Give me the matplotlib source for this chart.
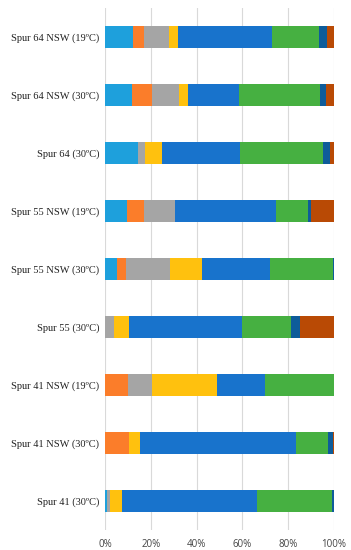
import matplotlib
matplotlib.use("Agg")
import matplotlib.pyplot as plt
import numpy as np
from matplotlib.ticker import PercentFormatter

# rows listed top to bottom
samples = [
    "Spur 64 NSW (19ºC)",
    "Spur 64 NSW (30ºC)",
    "Spur 64 (30ºC)",
    "Spur 55 NSW (19ºC)",
    "Spur 55 NSW (30ºC)",
    "Spur 55 (30ºC)",
    "Spur 41 NSW (19ºC)",
    "Spur 41 NSW (30ºC)",
    "Spur 41 (30ºC)",
]

# share of each component per sample (%)
light_blue = [12.4, 11.8, 14.3, 9.5, 5.4, 0.0, 0.0, 0.0, 1.0]
orange = [4.6, 8.7, 0.0, 7.5, 3.6, 0.0, 9.9, 10.3, 0.0]
gray = [10.8, 12.0, 3.3, 13.6, 19.2, 3.8, 10.6, 0.0, 1.3]
yellow = [3.9, 3.6, 7.1, 0.0, 14.3, 6.8, 28.6, 4.8, 5.3]
blue = [41.2, 22.4, 34.1, 44.1, 29.7, 49.2, 20.8, 68.3, 58.6]
green = [20.4, 35.5, 36.2, 13.9, 27.5, 21.3, 30.1, 14.0, 32.9]
dark_blue = [3.6, 2.5, 3.3, 1.1, 0.3, 3.9, 0.0, 2.2, 0.9]
brown = [3.1, 3.5, 1.7, 10.3, 0.0, 15.0, 0.0, 0.4, 0.0]

series = [light_blue, orange, gray, yellow, blue, green, dark_blue, brown]
colors = ["#1ea0dc", "#fb7d2a", "#a5a5a5", "#ffc10e", "#1873cc",
          "#46b041", "#0e5c9a", "#b94a05"]

fig = plt.figure(figsize=(3.51, 5.5), dpi=100)
ax = fig.add_axes([0.299, 0.036, 0.653, 0.949])

y = np.arange(len(samples))
left = np.zeros(len(samples))
for vals, c in zip(series, colors):
    vals = np.array(vals)
    ax.barh(y, vals, left=left, height=0.38, color=c, linewidth=0)
    left += vals

ax.set_ylim(len(samples) - 0.5, -0.5)
ax.set_xlim(0, 100)
ax.set_xticks([0, 20, 40, 60, 80, 100])
ax.xaxis.set_major_formatter(PercentFormatter(decimals=0))
ax.set_yticks(y, labels=samples)
for lab in ax.get_yticklabels():
    lab.set_fontfamily("Liberation Serif")
    lab.set_fontsize(7.5)
    lab.set_color("#222222")
for lab in ax.get_xticklabels():
    lab.set_fontfamily("Open Sans")
    lab.set_fontsize(7)
    lab.set_color("#444444")
ax.tick_params(length=0, pad=4)
ax.tick_params(axis="x", pad=6)
ax.grid(axis="x", color="#d9d9d9", linewidth=0.8)
ax.set_axisbelow(True)
for s in ax.spines.values():
    s.set_visible(False)

fig.savefig("out.png", dpi=100)
